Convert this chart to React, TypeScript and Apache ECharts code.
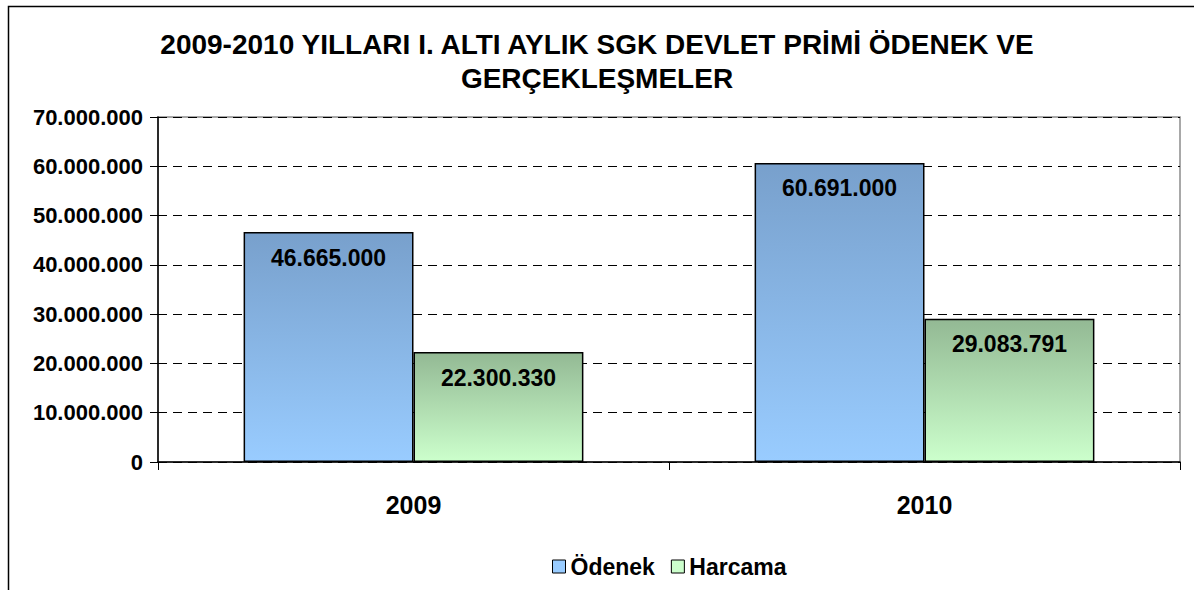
import React, { useEffect, useRef } from "react";
import * as echarts from "echarts";

const categories = ["2009", "2010"];
const odenek = [46665000, 60691000];
const harcama = [22300330, 29083791];
const seriesNames = ["Ödenek", "Harcama"];
const titleText = "2009-2010 YILLARI I. ALTI AYLIK SGK DEVLET PRİMİ ÖDENEK VE\nGERÇEKLEŞMELER";

const fmt = (v: number) => String(Math.round(v)).replace(/\B(?=(\d{3})+(?!\d))/g, ".");
const FONT = "'Liberation Sans', Arial, sans-serif";

export default function App() {
  const ref = useRef<HTMLDivElement>(null);
  useEffect(() => {
    const chart = echarts.init(ref.current!, undefined, { renderer: "svg" });
    const grad = (a: string, b: string) =>
      new echarts.graphic.LinearGradient(0, 0, 0, 1, [
        { offset: 0, color: a },
        { offset: 1, color: b },
      ]);
    const labelStyle = {
      show: true,
      position: "insideTop" as const,
      distance: 14,
      formatter: (p: any) => fmt(p.value),
      color: "#000",
      fontWeight: "bold" as const,
      fontSize: 23,
      fontFamily: FONT,
    };
    chart.setOption({
      animation: false,
      backgroundColor: "#fff",
      textStyle: { fontFamily: FONT },
      title: {
        text: titleText,
        left: "center",
        top: 22,
        textStyle: { fontSize: 28, fontWeight: "bold", color: "#000", lineHeight: 34, fontFamily: FONT },
      },
      graphic: [
        {
          type: "rect",
          shape: { x: 8.5, y: 6.5, width: 1300, height: 700 },
          style: { fill: "none", stroke: "#000", lineWidth: 1.5 },
          silent: true,
          z: -1,
        },
      ],
      legend: {
        bottom: 7,
        left: 547,
        itemWidth: 13,
        itemHeight: 13,
        itemGap: 16,
        textStyle: { fontSize: 23, fontWeight: "bold", color: "#000", fontFamily: FONT },
        data: [
          { name: seriesNames[0], icon: "rect", itemStyle: { color: "#99ccff", borderColor: "#000", borderWidth: 1 } },
          { name: seriesNames[1], icon: "rect", itemStyle: { color: "#ccffcc", borderColor: "#000", borderWidth: 1 } },
        ],
      },
      grid: {
        left: 158,
        right: 14,
        top: 117,
        bottom: 128,
        show: true,
        borderColor: "#8c8c8c",
        borderWidth: 1.5,
        backgroundColor: "#fff",
      },
      xAxis: {
        type: "category",
        data: categories,
        axisLine: { lineStyle: { color: "#000", width: 1.5 } },
        axisTick: { show: true, length: 8, lineStyle: { color: "#000" } },
        axisLabel: { margin: 30, fontSize: 25, fontWeight: "bold", color: "#000", fontFamily: FONT },
      },
      yAxis: {
        type: "value",
        min: 0,
        max: 70000000,
        interval: 10000000,
        axisLine: { show: true, lineStyle: { color: "#000", width: 1.5 } },
        axisTick: { show: true, length: 8, lineStyle: { color: "#000" } },
        axisLabel: {
          margin: 15,
          fontSize: 22,
          fontWeight: "bold",
          color: "#000",
          fontFamily: FONT,
          formatter: (v: number) => fmt(v),
        },
        splitLine: { show: true, lineStyle: { color: "#000", type: [9, 6], width: 1 } },
      },
      series: [
        {
          name: seriesNames[0],
          type: "bar",
          data: odenek,
          barGap: "0%",
          barCategoryGap: "33.5%",
          itemStyle: { color: grad("#78a0cc", "#99ccff"), borderColor: "#000", borderWidth: 1.5 },
          label: labelStyle,
        },
        {
          name: seriesNames[1],
          type: "bar",
          data: harcama,
          barGap: "0%",
          barCategoryGap: "33.5%",
          itemStyle: { color: grad("#93b994", "#ccffcc"), borderColor: "#000", borderWidth: 1.5 },
          label: labelStyle,
        },
      ],
    });
    return () => chart.dispose();
  }, []);
  return <div ref={ref} style={{ position: "fixed", left: 0, top: 0, width: 1194, height: 590 }} />;
}
